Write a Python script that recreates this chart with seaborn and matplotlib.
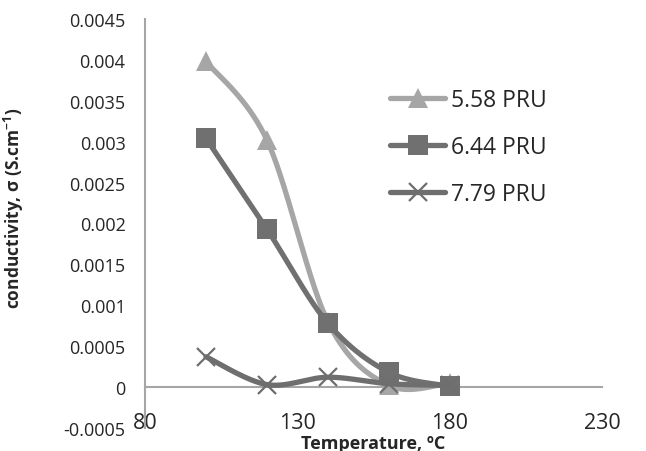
import numpy as np
import pandas as pd
import seaborn as sns
import matplotlib.pyplot as plt
from matplotlib.lines import Line2D

temps = [100, 120, 140, 160, 180]
s558 = [0.00398, 0.00302, 0.00080, 0.00002, 0.00005]
s644 = [0.00304, 0.00193, 0.00078, 0.00018, 0.00001]
s779 = [0.00037, 0.00003, 0.00012, 0.00004, 0.00002]
labels = ["5.58 PRU", "6.44 PRU", "7.79 PRU"]
xticks = [80, 130, 180, 230]
yticks = [-0.0005, 0, 0.0005, 0.001, 0.0015, 0.002, 0.0025, 0.003, 0.0035, 0.004, 0.0045]


def smooth(xs, ys, n=40):
    p = np.column_stack([xs, ys]).astype(float)
    out = []
    m = len(p)
    for i in range(m - 1):
        p0 = p[i - 1] if i > 0 else p[i]
        p1 = p[i]
        p2 = p[i + 1]
        p3 = p[i + 2] if i + 2 < m else p[i + 1]
        c1 = p1 + (p2 - p0) / 6.0
        c2 = p2 - (p3 - p1) / 6.0
        t = np.linspace(0, 1, n)[:, None]
        seg = ((1 - t) ** 3) * p1 + 3 * ((1 - t) ** 2) * t * c1 + 3 * (1 - t) * t ** 2 * c2 + t ** 3 * p2
        out.append(seg if i == 0 else seg[1:])
    s = np.vstack(out)
    return s[:, 0], s[:, 1]


sns.set_style("white")
plt.rcParams["font.family"] = ["Open Sans", "DejaVu Sans"]
plt.rcParams["mathtext.default"] = "regular"

fig = plt.figure(figsize=(6.46, 4.52), dpi=100)
ax = fig.add_axes([0.2245, 0.051, 0.7075, 0.905])

series = [s558, s644, s779]
colors = ["#a6a6a6", "#707070", "#6e6e6e"]
markers = ["^", "s", "x"]
msizes = [14, 14, 13]

for k, (ys, col, mk, ms, lab) in enumerate(zip(series, colors, markers, msizes, labels)):
    sx, sy = smooth(temps, ys)
    df = pd.DataFrame({"x": sx, "y": sy})
    sns.lineplot(data=df, x="x", y="y", ax=ax, color=col, linewidth=3.8,
                 sort=False, estimator=None, zorder=3 + k)
    if mk == "x":
        ax.plot(temps, ys, linestyle="none", marker=mk, markersize=ms,
                markeredgecolor=col, markeredgewidth=1.6, zorder=3 + k, clip_on=False)
    else:
        ax.plot(temps, ys, linestyle="none", marker=mk, markersize=ms,
                color=col, markeredgewidth=0, zorder=3 + k, clip_on=False)

ax.set_xlim(80, 230)
ax.set_ylim(-0.0005, 0.0045)
ax.set_xticks(xticks)
ax.set_xticklabels([str(v) for v in xticks])
ax.set_yticks(yticks)
ax.set_yticklabels(["-0.0005", "0", "0.0005", "0.001", "0.0015", "0.002", "0.0025",
                    "0.003", "0.0035", "0.004", "0.0045"])

for s in ["top", "right"]:
    ax.spines[s].set_visible(False)
ax.spines["bottom"].set_position(("data", 0))
for s in ["left", "bottom"]:
    ax.spines[s].set_color("#a6a6a6")
    ax.spines[s].set_linewidth(1.5)

ax.tick_params(axis="x", direction="out", length=6, width=1.5, color="#a6a6a6",
               labelsize=15.5, labelcolor="#262626", pad=12)
ax.tick_params(axis="y", direction="out", length=6, width=1.5, color="#a6a6a6",
               labelsize=13, labelcolor="#262626", pad=8)

ax.set_xlabel("Temperature, ºC", fontsize=13, fontweight="bold", color="#262626")
ax.xaxis.set_label_coords(0.5, -0.014)
ax.set_ylabel("conductivity, σ (S.cm$^{-1}$)", fontsize=12.5, fontweight="bold", color="#262626")
ax.yaxis.set_label_coords(-0.26, 0.54)

handles = []
for col, mk, ms in zip(colors, markers, msizes):
    if mk == "x":
        h = Line2D([], [], color=col, linewidth=3.8, marker=mk, markersize=ms,
                   markeredgecolor=col, markeredgewidth=1.6, solid_capstyle="round")
    else:
        h = Line2D([], [], color=col, linewidth=3.8, marker=mk, markersize=ms,
                   markeredgewidth=0, solid_capstyle="round")
    handles.append(h)

fig.legend(handles, labels, loc="upper left",
           bbox_to_anchor=(390 / 646, 1 - 89 / 452), frameon=False,
           fontsize=16.5, handlelength=2.4, handletextpad=0.25, labelspacing=1.0,
           borderpad=0, borderaxespad=0, labelcolor="#262626")

fig.savefig("out.png", dpi=100)
